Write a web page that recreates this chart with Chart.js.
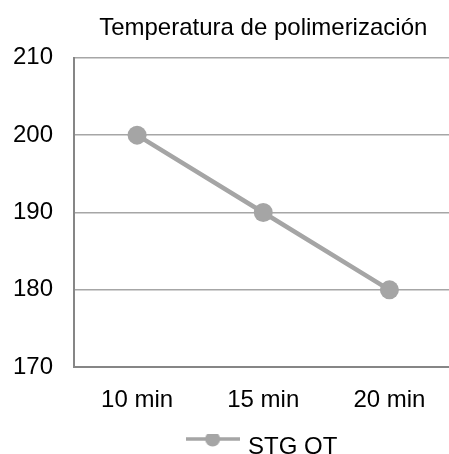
<!DOCTYPE html>
<html>
<head>
<meta charset="utf-8">
<script src="https://cdn.jsdelivr.net/npm/chart.js@4"></script>
<style>
  html, body { margin: 0; padding: 0; background: #fff; overflow: hidden; }
  #wrap { width: 449px; height: 454px; overflow: hidden; }
</style>
</head>
<body>
<div id="wrap"><canvas id="chart" width="462" height="469"></canvas></div>
<script>
const categories = ["10 min", "15 min", "20 min"];
const seriesName = "STG QT";
const seriesValues = [200, 190, 180];
const yTicks = [170, 180, 190, 200, 210];

const lineGray = "#a5a5a5";
const fontFamily = "'Liberation Sans', Arial, sans-serif";

// legend marker: line with a dot in the middle, sitting a bit above the text centre
const marker = document.createElement("canvas");
marker.width = 54;
marker.height = 36;
const mctx = marker.getContext("2d");
mctx.strokeStyle = lineGray;
mctx.lineWidth = 3.5;
mctx.beginPath();
mctx.moveTo(0, 10);
mctx.lineTo(54, 10);
mctx.stroke();
mctx.fillStyle = lineGray;
mctx.beginPath();
mctx.arc(27, 10, 7.5, 0, Math.PI * 2);
mctx.fill();

new Chart(document.getElementById("chart"), {
    type: "line",
    data: {
        labels: categories,
        datasets: [{
            label: seriesName,
            data: seriesValues,
            borderColor: lineGray,
            backgroundColor: lineGray,
            borderWidth: 4.5,
            pointRadius: 9.5,
            pointHoverRadius: 9.5,
            pointBackgroundColor: lineGray,
            pointBorderWidth: 0,
            tension: 0
        }]
    },
    options: {
        responsive: false,
        animation: false,
        layout: { padding: { top: 2, right: 2, left: 0, bottom: 0 } },
        plugins: {
            title: {
                display: true,
                fullSize: false,
                text: "Temperatura de polimerización",
                color: "#000",
                font: { family: fontFamily, size: 24, weight: "normal" },
                padding: { top: 12, bottom: 15 }
            },
            legend: {
                display: true,
                position: "bottom",
                fullSize: false,
                labels: {
                    color: "#000",
                    font: { family: fontFamily, size: 24 },
                    usePointStyle: true,
                    pointStyleWidth: 47,
                    padding: 1,
                    generateLabels: (chart) => chart.data.datasets.map((ds, i) => ({
                        text: ds.label,
                        fillStyle: lineGray,
                        strokeStyle: lineGray,
                        lineWidth: 0,
                        pointStyle: marker,
                        datasetIndex: i,
                        fontColor: "#000"
                    }))
                }
            },
            tooltip: { enabled: false }
        },
        scales: {
            x: {
                offset: true,
                grid: { display: false, drawTicks: false },
                border: { display: true, color: "#868686", width: 2 },
                ticks: {
                    color: "#000",
                    font: { family: fontFamily, size: 24 },
                    padding: 19,
                    maxRotation: 0
                }
            },
            y: {
                min: 170,
                max: 210,
                afterFit: (scale) => { scale.width = 74; },
                afterBuildTicks: (scale) => { scale.ticks = yTicks.map(v => ({ value: v })); },
                grid: { color: "#a6a6a6", lineWidth: 1.5, drawTicks: false },
                border: { display: true, color: "#868686", width: 2 },
                ticks: {
                    color: "#000",
                    font: { family: fontFamily, size: 24 },
                    padding: 21
                }
            }
        }
    }
});
</script>
</body>
</html>
